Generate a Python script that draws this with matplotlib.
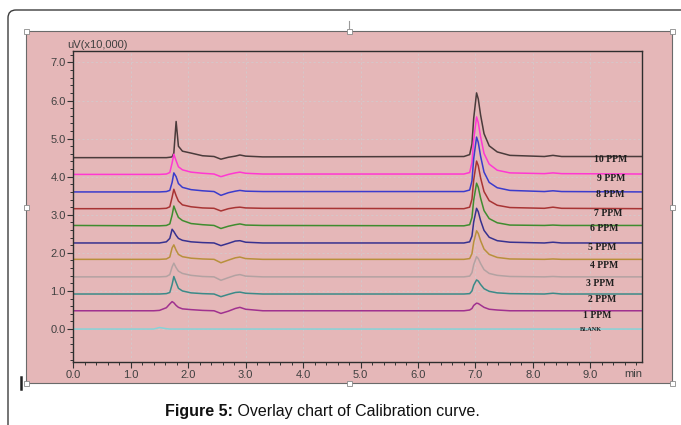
"""Overlay chromatogram of the calibration standards (Figure 5)."""

import matplotlib

matplotlib.use("Agg")
import matplotlib.pyplot as plt
from matplotlib.lines import Line2D
from matplotlib.patches import FancyBboxPatch, Rectangle
from matplotlib.ticker import FormatStrFormatter, MultipleLocator
from matplotlib.transforms import IdentityTransform

W, H = 681, 425  # output size in px

# retention-time knots [min]
knot_min = [0.00, 1.40, 1.50, 1.62, 1.68, 1.72, 1.75, 1.79, 1.83, 1.90,
            2.05, 2.25, 2.45, 2.57, 2.70, 2.82, 2.90, 3.00, 3.30, 6.80,
            6.90, 6.94, 6.97, 7.02, 7.05, 7.09, 7.15, 7.24, 7.38, 7.60,
            8.20, 8.35, 8.50, 9.95]

series = ["10 PPM", "9 PPM", "8 PPM", "7 PPM", "6 PPM", "5 PPM",
          "4 PPM", "3 PPM", "2 PPM", "1 PPM", "BLANK"]

# stacked baseline of each trace [uV x 10,000]
baseline = [4.50, 4.06, 3.60, 3.16, 2.71, 2.26, 1.83, 1.37, 0.92, 0.48, 0.00]

# signal above baseline at each knot
ppm10 = [0.00, 0.00, 0.00, 0.00, 0.01, 0.02, 0.12, 0.95, 0.30, 0.17,
         0.12, 0.05, 0.03, -0.04, 0.01, 0.04, 0.07, 0.04, 0.02, 0.03,
         0.08, 0.36, 1.03, 1.70, 1.54, 1.12, 0.63, 0.31, 0.15, 0.06,
         0.03, 0.06, 0.03, 0.03]
ppm9 = [0.00, 0.00, 0.00, 0.01, 0.05, 0.30, 0.53, 0.36, 0.20, 0.12,
        0.06, 0.03, 0.01, -0.06, 0.00, 0.04, 0.06, 0.03, 0.01, 0.01,
        0.05, 0.31, 0.91, 1.51, 1.36, 0.99, 0.55, 0.27, 0.11, 0.04,
        0.02, 0.04, 0.02, 0.01]
ppm8 = [0.00, 0.00, 0.00, 0.01, 0.04, 0.25, 0.50, 0.40, 0.22, 0.12,
        0.06, 0.03, 0.01, -0.09, -0.02, 0.02, 0.04, 0.02, 0.01, 0.01,
        0.05, 0.29, 0.87, 1.44, 1.30, 0.94, 0.52, 0.25, 0.11, 0.04,
        0.01, 0.03, 0.01, 0.00]
ppm7 = [0.00, 0.00, 0.00, 0.01, 0.05, 0.30, 0.51, 0.34, 0.20, 0.10,
        0.05, 0.02, 0.01, -0.06, 0.00, 0.03, 0.04, 0.02, 0.01, 0.00,
        0.04, 0.25, 0.75, 1.25, 1.13, 0.81, 0.45, 0.21, 0.09, 0.03,
        0.01, 0.04, 0.01, 0.00]
ppm6 = [0.01, 0.00, 0.00, 0.01, 0.05, 0.28, 0.52, 0.36, 0.22, 0.14,
        0.06, 0.03, 0.01, -0.07, -0.01, 0.03, 0.05, 0.02, 0.01, 0.00,
        0.03, 0.22, 0.67, 1.12, 1.01, 0.73, 0.40, 0.19, 0.08, 0.02,
        0.01, 0.02, 0.01, 0.01]
ppm5 = [0.00, 0.00, 0.00, 0.03, 0.12, 0.36, 0.30, 0.20, 0.12, 0.07,
        0.03, 0.01, 0.00, -0.07, -0.01, 0.05, 0.06, 0.02, 0.00, 0.00,
        0.03, 0.18, 0.55, 0.91, 0.82, 0.59, 0.33, 0.15, 0.06, 0.02,
        0.00, 0.02, 0.00, 0.00]
ppm4 = [0.00, 0.00, 0.00, 0.01, 0.06, 0.30, 0.38, 0.24, 0.13, 0.07,
        0.03, 0.01, 0.00, -0.09, -0.02, 0.04, 0.06, 0.02, 0.00, 0.00,
        0.02, 0.15, 0.45, 0.75, 0.68, 0.49, 0.27, 0.13, 0.05, 0.01,
        0.00, 0.01, 0.00, 0.00]
ppm3 = [0.00, 0.00, 0.00, 0.01, 0.06, 0.26, 0.36, 0.24, 0.15, 0.09,
        0.04, 0.01, 0.00, -0.09, -0.02, 0.04, 0.06, 0.02, 0.00, 0.00,
        0.02, 0.11, 0.32, 0.53, 0.48, 0.35, 0.19, 0.09, 0.04, 0.01,
        0.00, 0.01, 0.00, 0.00]
ppm2 = [0.00, 0.00, 0.00, 0.01, 0.04, 0.25, 0.46, 0.30, 0.15, 0.08,
        0.03, 0.01, 0.00, -0.07, -0.01, 0.04, 0.05, 0.02, 0.00, 0.00,
        0.01, 0.08, 0.23, 0.37, 0.34, 0.25, 0.14, 0.07, 0.03, 0.01,
        0.00, 0.02, 0.00, 0.00]
ppm1 = [0.00, 0.00, 0.01, 0.08, 0.18, 0.24, 0.21, 0.14, 0.09, 0.05,
        0.03, 0.01, 0.00, -0.07, -0.01, 0.06, 0.09, 0.04, 0.00, 0.00,
        0.02, 0.06, 0.14, 0.20, 0.19, 0.15, 0.09, 0.04, 0.02, 0.00,
        0.00, 0.00, 0.00, 0.00]
blank = [0.00, 0.00, 0.04, 0.01, 0.00, 0.00, 0.00, 0.00, 0.00, 0.00,
         0.00, 0.00, 0.00, 0.00, 0.00, 0.00, 0.00, 0.00, 0.00, 0.00,
         0.00, 0.00, 0.00, 0.00, 0.00, 0.00, 0.00, 0.00, 0.00, 0.00,
         0.00, 0.00, 0.00, 0.00]

signals = [ppm10, ppm9, ppm8, ppm7, ppm6, ppm5, ppm4, ppm3, ppm2, ppm1, blank]

COLORS = ["#4a3b3b", "#ff38d2", "#3b3bcc", "#a83434", "#3f8c2f", "#37318f",
          "#b8903c", "#b3a2a2", "#3b8a88", "#a0318f", "#86d3d8"]

# where each trace name sits (x in min, y in data units)
LABEL_POS = [(9.35, 4.46), (9.37, 3.95), (9.34, 3.53), (9.32, 3.04),
             (9.24, 2.63), (9.20, 2.14), (9.24, 1.68), (9.18, 1.20),
             (9.20, 0.78), (9.12, 0.35), (9.01, -0.02)]

PINK = "#e5b7b8"
SANS = "Liberation Sans"
SERIF = "Liberation Serif"


def fx(x):
    return x / W


def fy(y):
    return 1 - y / H


def decorate_page(fig):
    """Outer document frame, pink plot area and the selection handles."""
    frame = FancyBboxPatch((8, -30), 720, H - 10 + 30,
                           boxstyle="round,pad=0,rounding_size=8",
                           transform=IdentityTransform(), fill=False,
                           edgecolor="#3c3c3c", lw=1.0)
    fig.add_artist(frame)
    fig.add_artist(Rectangle((fx(26), fy(383)), fx(672) - fx(26),
                             fy(31) - fy(383), facecolor=PINK,
                             edgecolor="#6a6a6a", lw=0.8,
                             transform=fig.transFigure, zorder=0))
    for hx in (26, 349, 672):
        for hy in (31, 207, 383):
            if hx == 349 and hy == 207:
                continue
            fig.add_artist(Rectangle((hx - 2.5, H - hy - 2.5), 5, 5,
                                     transform=IdentityTransform(),
                                     facecolor="white", edgecolor="#8a8a8a",
                                     lw=0.6, zorder=5))
    fig.add_artist(Line2D([fx(349), fx(349)], [fy(21), fy(28)],
                          color="#9a9a9a", lw=0.8))
    fig.add_artist(Line2D([fx(21), fx(21)], [fy(377), fy(389)],
                          color="#222222", lw=1.8))


def chromatogram(fig):
    ax = fig.add_axes([fx(73.3), fy(362), fx(642) - fx(73.3),
                       fy(51) - fy(362)])
    ax.set_facecolor(PINK)
    for name, base, sig, color in zip(series, baseline, signals, COLORS):
        ax.plot(knot_min, [base + s for s in sig], color=color, lw=1.1,
                solid_joinstyle="round")
    for (lx, ly), name in zip(LABEL_POS, series):
        small = name == "BLANK"
        ax.text(lx, ly, name, ha="center", va="center", family=SERIF,
                weight="bold", fontsize=4.5 if small else 7, color="#1e1e1e")

    ax.set_xlim(0, 9.9)
    ax.set_ylim(-0.865, 7.30)
    ax.xaxis.set_major_locator(MultipleLocator(1.0))
    ax.xaxis.set_minor_locator(MultipleLocator(0.2))
    ax.yaxis.set_major_locator(MultipleLocator(1.0))
    ax.yaxis.set_minor_locator(MultipleLocator(0.2))
    ax.xaxis.set_major_formatter(FormatStrFormatter("%.1f"))
    ax.yaxis.set_major_formatter(FormatStrFormatter("%.1f"))
    ax.set_yticks([y for y in range(0, 8)])
    ax.tick_params(which="major", direction="out", length=4, width=0.8,
                   color="#333333", labelsize=8, labelcolor="#404040", pad=1.5)
    ax.tick_params(which="minor", direction="out", length=2.2, width=0.7,
                   color="#333333")
    for lab in ax.get_xticklabels() + ax.get_yticklabels():
        lab.set_family(SANS)
    for sp in ax.spines.values():
        sp.set_color("#2e2e2e")
        sp.set_linewidth(1.0)
    ax.grid(True, which="major", color="#d6c6c8", lw=0.8, ls=(0, (2, 2)))
    ax.set_axisbelow(True)

    ax.text(1.0, -0.022, "min", transform=ax.transAxes, ha="right",
            va="top", fontsize=8, color="#404040", family=SANS)
    fig.text(fx(67), fy(45), "uV(x10,000)", ha="left", va="center",
             fontsize=8, color="#404040", family=SANS)
    return ax


def caption(fig, ax):
    t1 = fig.text(fx(165), fy(416), "Figure 5:", ha="left", va="baseline",
                  fontsize=11.5, weight="bold", family=SANS, color="#111111")
    ax.annotate(" Overlay chart of Calibration curve.", xy=(1, 0),
                xycoords=t1, ha="left", va="bottom", fontsize=11.5,
                family=SANS, color="#111111", annotation_clip=False)


def main():
    fig = plt.figure(figsize=(W / 100, H / 100), dpi=100)
    fig.patch.set_facecolor("white")
    decorate_page(fig)
    ax = chromatogram(fig)
    caption(fig, ax)
    fig.savefig("out.png", dpi=100, facecolor="white")


if __name__ == "__main__":
    main()
